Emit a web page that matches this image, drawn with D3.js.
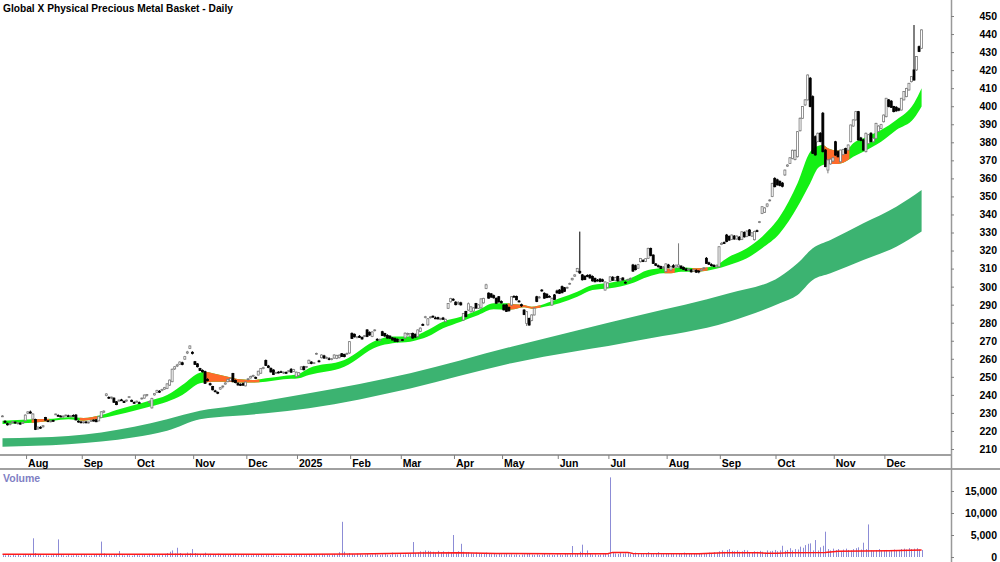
<!DOCTYPE html>
<html>
<head>
<meta charset="utf-8">
<script src="https://cdn.jsdelivr.net/npm/d3@7"></script>
<style>
body { margin: 0; background: #fff; }
svg { display: block; font-family: "Liberation Sans", Arial, sans-serif; }
</style>
</head>
<body>
<svg id="chart"></svg>
<script>
const title = "Global X Physical Precious Metal Basket - Daily";

// month ticks: label + index of first trading day of the month
const monthLabels = ["Aug", "Sep", "Oct", "Nov", "Dec", "2025", "Feb", "Mar", "Apr", "May", "Jun", "Jul", "Aug", "Sep", "Oct", "Nov", "Dec"];
const monthStarts = [10, 32, 53, 76, 97, 117, 138, 158, 179, 198, 220, 240, 263, 284, 306, 329, 349];

const priceTicks = [210, 220, 230, 240, 250, 260, 270, 280, 290, 300, 310, 320, 330, 340, 350, 360, 370, 380, 390, 400, 410, 420, 430, 440, 450];
const volumeTicks = [0, 5000, 10000, 15000];

// daily candles [open, high, low, close], 18 Jul 2024 .. 19 Dec 2025
const candles = [
[228.0,228.7,227.7,228.3],[225.4,225.9,224.5,224.8],[224.0,224.6,223.0,223.4],[223.6,224.5,223.1,224.2],[224.6,225.5,224.3,225.1],
[224.9,225.2,224.0,224.4],[224.2,224.9,223.6,224.5],[224.3,224.7,223.5,223.8],[224.1,225.0,223.9,224.8],[225.7,229.2,225.4,228.8],
[229.8,231.0,229.3,230.6],[230.5,231.3,229.6,229.9],[226.6,229.8,226.2,229.4],[226.4,226.8,220.5,220.9],[221.2,222.5,220.6,222.1],
[222.0,222.6,221.2,221.6],[222.3,223.2,221.9,222.9],[227.5,227.8,225.8,226.0],[225.6,225.9,224.9,225.2],[225.2,225.8,224.8,225.5],
[225.8,226.2,225.1,225.4],[229.0,229.6,228.8,229.4],[228.6,229.2,228.0,228.4],[228.2,228.8,227.6,228.0],[227.8,228.5,227.3,228.3],
[228.5,229.1,228.0,228.8],[228.4,229.0,227.7,228.0],[228.1,228.7,227.4,228.4],[228.6,229.2,228.0,228.3],[228.8,229.4,225.9,226.1],
[225.4,225.9,224.6,225.0],[225.0,225.5,224.2,224.6],[224.7,225.3,224.1,225.0],[225.0,225.4,224.3,224.5],[224.6,225.2,224.1,224.9],
[225.3,226.2,225.0,225.9],[226.0,226.4,225.2,225.5],[226.2,226.6,224.9,225.1],[225.6,228.2,225.3,227.9],[227.4,231.0,227.2,230.6],
[230.4,231.4,229.8,231.0],[239.6,240.9,239.2,240.5],[238.6,239.2,237.8,238.2],[238.5,239.0,237.6,238.8],[238.2,238.6,235.6,235.9],
[236.2,236.6,234.3,234.6],[236.6,237.4,236.2,237.1],[237.2,237.8,236.6,237.0],[236.4,236.9,235.5,235.8],[236.6,237.4,236.2,237.1],
[238.6,239.3,238.2,239.0],[237.0,237.4,236.0,236.3],[235.8,236.4,235.0,235.6],[236.0,236.8,235.6,236.5],[235.7,236.3,235.1,235.5],
[237.8,238.5,237.4,238.2],[238.2,240.2,237.9,239.9],[239.6,240.5,239.0,240.2],[236.0,236.8,235.4,236.3],[232.8,238.4,232.4,238.0],
[240.0,241.0,239.6,240.7],[241.4,242.8,241.0,242.5],[242.0,242.6,241.1,241.5],[242.4,243.4,242.0,243.0],[243.2,244.4,242.8,244.0],
[243.6,246.5,243.2,246.1],[245.4,248.5,245.0,248.2],[247.3,254.6,247.0,254.2],[254.4,256.0,253.8,255.6],[256.0,257.2,255.4,256.6],
[257.0,258.6,256.6,258.2],[257.8,258.4,256.4,256.8],[259.8,261.6,259.4,261.2],[263.2,264.4,262.6,263.8],[265.8,267.4,265.4,267.1],
[263.6,264.2,262.4,263.0],[258.4,258.8,256.6,256.9],[257.2,257.6,255.2,255.6],[254.6,255.0,253.2,253.5],[253.6,254.1,252.4,252.8],
[252.9,253.4,246.1,246.4],[248.6,249.2,247.5,247.9],[246.2,246.8,245.1,245.6],[244.6,245.0,242.5,242.8],[242.2,242.8,241.4,241.8],
[241.4,241.9,240.4,240.9],[243.2,244.4,242.8,244.0],[244.6,245.2,243.6,244.9],[246.0,247.0,245.6,246.6],[247.3,248.9,247.0,248.6],
[247.8,249.4,247.5,249.1],[251.8,252.2,247.0,247.3],[248.0,248.5,246.4,246.8],[246.4,247.0,245.1,245.5],[245.8,246.4,244.9,245.3],
[246.2,246.8,245.0,245.4],[245.0,247.4,244.7,247.1],[248.6,249.4,248.0,248.9],[249.4,250.6,249.0,250.2],[250.4,251.2,249.8,250.7],
[249.6,250.2,248.9,249.4],[251.0,253.4,250.8,253.1],[252.0,254.9,251.7,254.6],[254.6,255.6,254.2,255.1],[259.0,259.6,256.0,256.3],
[256.0,256.6,254.8,255.2],[254.7,255.2,252.4,252.7],[253.8,254.2,251.0,251.3],[252.2,252.8,251.6,252.4],[252.6,253.1,251.9,252.2],
[252.8,253.4,252.2,252.5],[252.2,252.9,251.6,252.6],[252.4,253.0,251.8,252.1],[253.0,253.6,252.5,253.4],[254.2,254.8,252.2,252.6],
[253.0,254.4,252.6,254.0],[250.1,252.9,249.8,252.6],[250.8,252.6,250.4,252.3],[254.2,255.8,253.8,255.5],[255.6,256.1,253.6,253.9],
[255.4,256.0,254.8,255.7],[257.5,259.5,257.1,259.2],[258.2,258.6,257.0,257.4],[257.6,258.2,257.1,257.8],[262.6,263.4,262.2,263.0],
[258.8,259.4,258.0,258.4],[260.6,262.5,260.2,262.1],[261.6,262.2,260.0,260.4],[260.4,261.2,259.8,260.8],[260.0,260.8,259.2,259.6],
[259.8,260.4,259.2,260.0],[260.4,262.5,260.0,262.1],[260.2,262.2,259.8,261.9],[260.6,262.4,260.2,262.0],[262.8,263.2,261.0,261.3],
[262.4,262.8,260.8,261.2],[262.6,263.4,262.2,263.0],[263.2,269.8,262.8,269.5],[274.1,274.6,271.0,271.3],[273.6,274.0,271.8,272.2],
[271.8,272.6,271.3,272.2],[272.5,273.1,271.6,271.9],[271.8,272.4,270.6,271.0],[272.4,273.2,272.0,272.8],[276.0,276.4,272.0,272.4],
[274.6,275.2,272.8,273.2],[272.4,275.2,272.0,274.9],[275.6,276.4,275.2,276.0],[270.8,271.4,270.0,270.4],[270.6,271.2,269.9,270.6],
[275.0,275.5,272.6,272.9],[274.0,274.4,272.2,272.6],[273.0,273.6,271.2,271.5],[272.6,273.0,271.0,271.4],[271.6,272.0,270.2,270.4],
[271.3,271.8,269.4,269.7],[270.8,271.2,269.2,269.6],[270.2,270.8,269.8,270.4],[270.6,271.0,269.8,270.3],[271.6,274.6,271.2,274.2],
[273.6,274.5,272.8,274.0],[272.4,274.3,272.0,273.9],[274.1,274.5,271.2,271.5],[273.6,274.0,271.6,272.0],[272.3,276.3,272.0,276.0],
[275.2,277.4,274.8,277.0],[279.0,279.6,278.2,278.6],[283.0,283.8,282.4,283.3],[278.8,282.6,278.4,282.2],[282.8,283.6,282.3,283.2],
[283.6,284.0,282.8,283.1],[282.6,283.4,282.0,282.4],[282.8,283.3,281.8,282.1],[282.0,282.7,281.4,282.3],[282.6,283.2,281.6,281.9],
[280.6,282.2,280.2,281.9],[288.0,290.9,287.6,290.6],[291.6,293.8,291.2,293.4],[293.0,293.6,292.0,292.5],[291.4,291.9,289.6,290.0],
[290.6,291.9,289.8,291.2],[291.0,291.6,289.5,289.9],[281.5,285.4,281.0,285.1],[286.2,286.6,283.0,283.4],[287.0,291.2,286.6,290.5],
[286.1,289.2,285.6,288.8],[286.4,288.6,286.0,288.2],[290.6,291.0,287.8,288.1],[288.0,290.2,287.6,289.9],[288.2,293.6,287.8,293.2],
[291.0,293.8,290.6,293.5],[299.0,301.6,298.6,301.0],[296.4,296.8,293.4,293.6],[296.0,296.4,293.8,294.2],[295.0,295.6,293.4,293.8],
[293.5,294.0,290.5,290.8],[294.4,294.8,291.2,291.5],[291.8,292.4,290.6,291.0],[289.8,290.2,286.8,287.1],[289.8,290.4,286.0,286.3],
[288.4,289.0,286.2,286.6],[289.8,294.8,289.4,294.4],[294.6,295.2,294.0,294.4],[294.6,295.0,292.4,292.7],[292.0,292.6,291.2,291.6],
[290.0,290.6,288.8,289.4],[287.0,287.5,284.2,284.5],[279.6,286.4,278.2,286.1],[282.4,282.8,278.4,278.7],[281.2,284.6,280.8,284.3],
[284.3,288.4,284.0,288.0],[294.4,294.9,291.4,291.7],[294.0,294.8,293.4,294.2],[298.1,298.6,297.2,297.6],[296.3,296.8,293.3,293.6],
[295.8,296.3,293.6,293.9],[294.6,295.2,294.0,294.4],[289.8,294.0,289.4,293.5],[295.4,295.9,292.6,292.9],[297.6,298.3,296.2,296.5],
[298.1,298.6,296.0,296.3],[300.0,300.6,296.3,296.6],[299.4,299.8,297.0,297.4],[299.4,300.0,298.8,299.6],[301.4,302.2,301.0,301.8],
[303.8,304.9,303.4,304.6],[305.8,306.8,305.4,306.5],[308.3,310.4,308.0,310.1],[308.5,330.5,307.0,307.6],[306.5,307.0,303.4,303.8],
[305.8,306.2,303.6,304.0],[306.2,306.8,305.2,305.6],[306.4,306.9,304.4,304.8],[305.6,306.2,302.8,303.2],[304.6,305.0,302.4,302.7],
[303.6,304.2,302.8,303.2],[304.2,304.6,302.4,302.8],[303.8,304.4,302.6,303.0],[298.1,302.9,297.8,302.6],[299.6,302.4,299.2,302.0],
[303.0,305.8,302.6,305.4],[305.2,305.8,303.2,303.5],[303.4,305.4,303.0,305.1],[305.6,306.0,302.8,303.2],[303.2,304.6,302.8,304.3],
[304.8,305.2,303.4,303.7],[302.4,302.9,301.6,302.0],[303.6,304.4,303.2,304.0],[304.4,305.0,304.0,304.6],[312.0,312.6,308.2,308.6],
[311.6,312.2,309.0,309.4],[310.2,312.6,309.8,312.2],[313.8,315.9,313.4,315.6],[314.4,315.2,313.6,314.0],[314.0,315.8,313.6,315.5],
[315.7,321.6,315.4,321.2],[321.2,321.6,316.8,317.2],[317.5,317.9,312.6,312.9],[312.6,313.0,311.4,311.8],[311.6,312.2,310.6,311.0],
[311.2,311.6,309.8,310.1],[310.6,311.4,309.8,310.8],[308.3,312.9,308.0,312.6],[312.0,312.6,310.2,310.6],[309.2,311.6,308.8,311.2],
[311.6,312.4,310.4,310.8],[310.8,312.2,310.4,311.9],[311.0,324.0,310.6,312.0],[311.4,311.8,309.8,310.2],[310.6,311.2,309.2,309.6],
[309.8,310.4,308.6,309.0],[309.4,310.2,308.8,309.7],[309.2,309.8,307.8,308.2],[308.6,309.6,308.2,309.3],[309.0,309.6,307.6,308.0],
[308.6,309.2,307.4,308.5],[309.0,310.0,308.6,309.6],[310.2,310.8,309.6,310.4],[315.7,316.4,312.6,312.9],[313.2,313.8,312.0,312.4],
[312.2,312.9,311.2,311.6],[311.8,312.4,310.8,311.2],[311.0,312.2,310.6,311.8],[311.0,322.4,310.6,322.1],[323.4,324.6,323.0,324.0],
[324.4,325.0,323.6,324.2],[328.6,329.2,324.6,325.0],[327.8,328.4,325.4,325.8],[326.2,328.9,325.8,328.6],[328.0,328.6,326.0,326.4],
[326.4,328.4,326.0,328.0],[327.4,328.0,325.6,326.0],[326.2,330.7,325.8,330.4],[330.0,330.6,327.2,327.6],[327.8,331.2,327.4,330.8],
[331.4,331.9,328.0,328.4],[328.0,330.2,327.6,329.8],[326.0,331.0,325.6,330.6],[331.0,331.6,330.2,330.6],[335.6,336.4,335.2,336.0],
[340.6,344.6,340.2,344.3],[341.2,344.0,340.8,343.6],[344.6,346.2,344.0,345.8],[347.6,348.4,347.2,348.0],[349.9,357.6,349.6,357.2],
[360.0,360.6,355.0,355.4],[359.2,359.8,356.0,356.4],[358.4,358.8,355.6,356.0],[357.4,358.0,355.0,355.6],[361.9,364.9,361.4,364.6],
[366.8,367.8,366.4,367.4],[368.3,371.8,368.0,371.4],[371.0,375.9,370.6,375.6],[370.4,376.0,370.0,375.4],[372.0,386.2,371.6,385.9],
[386.4,393.8,386.0,393.3],[393.3,400.1,393.0,399.8],[400.7,404.0,400.2,403.5],[403.5,417.6,403.2,417.3],[415.5,416.2,399.4,399.8],
[405.3,406.0,373.6,373.9],[383.1,383.8,372.6,373.0],[380.4,385.4,380.0,385.0],[385.0,385.6,380.0,380.4],[396.1,396.8,374.4,374.8],
[375.7,376.2,366.2,366.5],[364.6,370.6,362.8,370.2],[368.0,371.0,367.6,370.6],[369.6,371.8,369.2,371.4],[380.3,380.8,372.6,372.9],
[374.8,375.4,371.6,372.0],[369.2,375.9,368.8,375.7],[373.2,376.4,372.8,376.0],[376.6,377.0,373.6,373.9],[375.7,378.8,375.4,378.5],
[380.3,389.8,380.0,389.6],[389.0,392.8,388.6,392.4],[392.4,397.4,392.0,397.0],[397.0,397.4,381.0,381.3],[382.4,383.0,380.6,381.0],
[381.3,381.8,375.4,375.7],[374.8,385.4,374.4,385.0],[379.4,384.6,379.0,384.2],[385.0,385.6,380.0,380.4],[380.3,382.6,379.8,382.2],
[382.2,390.8,381.8,390.5],[386.0,389.4,385.6,389.0],[387.6,390.2,387.2,389.8],[391.4,395.4,391.0,395.1],[394.2,404.6,393.8,404.4],
[403.5,404.0,399.4,399.8],[402.8,403.4,399.0,399.4],[399.8,400.2,396.6,397.0],[399.4,400.0,397.0,397.4],[398.6,399.2,397.2,397.8],
[397.9,404.6,397.6,404.4],[403.5,408.3,403.2,408.1],[405.3,410.2,405.0,409.8],[409.0,412.9,408.6,412.7],[413.6,416.6,413.2,416.4],
[420.1,445.0,414.2,414.5],[420.1,427.8,419.6,427.5],[433.0,433.6,430.0,430.3],[432.1,442.6,431.8,442.3]
];

const volume = [
420,380,520,300,460,350,610,280,390,700,520,640,4250,900,560,480,350,420,300,380,
450,520,4000,610,380,290,470,350,400,560,330,480,620,410,300,360,450,700,520,3500,
820,560,430,380,500,610,1350,420,350,480,390,300,450,520,380,410,600,350,720,480,
520,430,610,480,700,900,1200,1500,800,2100,900,650,720,1000,850,1800,900,760,620,700,
980,650,720,580,540,760,620,480,700,560,450,620,780,560,430,500,660,420,380,520,
450,600,480,380,520,420,350,480,300,260,380,420,300,350,460,380,520,600,440,380,
500,560,420,640,520,480,700,560,600,450,520,700,580,1100,8000,1200,620,880,700,560,
800,620,480,560,700,520,600,900,560,480,620,700,540,480,1000,620,580,700,540,620,
700,800,3400,900,1000,1300,1200,1500,1400,1300,1200,1000,1400,1100,1300,900,1200,1000,5000,1100,
1300,3000,1200,1000,1100,900,800,1000,900,700,800,1000,760,640,700,560,900,620,600,700,
560,640,520,600,480,560,620,700,900,560,500,620,480,560,880,520,600,500,460,620,
560,480,700,620,560,2500,600,900,1200,2800,900,1500,800,560,620,480,560,620,700,640,
18100,900,800,700,1000,760,840,900,700,800,1000,700,900,760,800,1100,700,900,800,1100,
640,700,900,760,700,800,640,900,700,1000,800,760,860,700,640,760,900,700,800,1000,
900,1100,1000,1300,1500,1200,1600,1800,1400,1300,1500,1200,1300,1600,1500,1000,1100,1300,1200,1400,
1200,1000,1500,1300,1400,1600,1300,1500,2550,1400,1600,2000,1500,1800,1700,2350,2100,2700,3000,3100,
1500,3850,1500,2200,2550,5750,1800,1500,1900,1600,1800,1400,1700,1900,1600,1500,1800,2000,2200,1700,
3250,1800,7400,1500,1400,1600,1800,1400,1500,1600,1300,1500,1700,1400,1600,1800,1900,1700,2000,1800,
1900,2000,1700,1600
];

// volume average line, read at a few days
const volAvgIdx = [0, 60, 120, 140, 165, 180, 195, 220, 239, 241, 247, 249, 275, 285, 298, 302, 306, 310, 325, 330, 350, 363];
const volAvgVal = [600, 620, 650, 700, 900, 950, 800, 740, 760, 1050, 1050, 820, 760, 980, 980, 850, 850, 980, 1000, 1300, 1400, 1600];

// short-term ribbon (upper / lower edge)
const shortIdx = [0,12,20,26,32,39,45,52,58,65,71,78,80,83,89,94,99,104,111,117,121,135,148,154,161,168,174,181,188,194,199,202,206,209,214,220,227,233,240,248,255,261,264,268,274,281,287,294,300,307,314,319,322,324,326,330,334,336,340,347,353,360,363];
const shortHi = [225.7,226.5,226.8,227.6,227.2,228.8,231.6,234.4,236.8,239.9,245.5,252.3,252.8,252.0,250.1,248.6,248.2,249.2,250.5,251.6,254.7,259.3,270.4,272.3,272.3,276.0,280.6,283.3,287.1,290.8,290.8,290.2,289.8,288.9,290.4,293.5,297.2,300.9,302.2,304.6,309.2,310.2,309.8,310.7,310.2,311.4,316.6,321.3,327.7,338.8,357.3,374.8,378.0,378.5,376.7,375.4,376.7,379.5,382.2,386.8,392.4,401.6,409.9];
const shortLo = [223.9,224.6,225.7,226.5,225.7,227.0,228.8,231.2,233.4,236.2,239.9,246.4,246.8,247.3,247.3,246.8,246.8,247.3,248.6,249.2,251.0,255.6,266.7,268.6,269.5,272.3,276.9,280.6,284.3,287.4,287.1,287.4,288.5,287.8,288.9,290.8,294.4,298.1,299.1,301.6,305.5,307.4,307.4,308.3,308.3,309.6,312.0,315.7,321.3,329.6,344.3,357.3,365.6,367.4,368.0,368.0,370.2,372.0,374.8,380.3,386.8,393.3,399.8];
// stretches where the short ribbon turns bearish (orange)
const bearishRanges = [[12, 18], [31, 37], [80, 101], [200, 212], [262, 265], [273, 278], [325, 334]];

// long-term ribbon
const longIdx = [0,26,52,65,78,91,104,121,161,201,252,287,307,314,320,327,340,353,363];
const longHi = [215.9,217.2,222.4,226.5,231.2,233.8,236.8,240.9,252.0,266.7,284.3,296.3,305.5,312.9,321.3,325.9,335.1,344.3,353.6];
const longLo = [211.3,212.6,216.5,220.1,226.5,228.3,229.8,232.6,243.6,257.5,270.4,280.6,290.8,295.4,303.7,307.4,314.8,322.1,330.5];

const width = 1000,
    height = 562;
const axisX = 951;
const priceBox = { top: 0, bottom: 455 };
const dateStrip = { top: 455, bottom: 469 };

const svg = d3.select("#chart")
    .attr("width", width)
    .attr("height", height);

const x = d3.scaleLinear().domain([0, candles.length - 1]).range([2.5, 921.6]);
const y = d3.scaleLinear().domain([210, 450]).range([449, 16]);
const yVol = d3.scaleLinear().domain([0, 15000]).range([557, 491]);

svg.append("defs").append("clipPath").attr("id", "priceClip")
    .append("rect").attr("x", 0).attr("y", 0).attr("width", axisX).attr("height", priceBox.bottom);

const bearClip = svg.select("defs").append("clipPath").attr("id", "bearClip");
bearClip.selectAll("rect").data(bearishRanges).join("rect")
    .attr("x", d => x(d[0] - 0.5))
    .attr("width", d => x(d[1] + 0.5) - x(d[0] - 0.5))
    .attr("y", 0)
    .attr("height", priceBox.bottom);

const plot = svg.append("g").attr("clip-path", "url(#priceClip)");

// ribbons
const bandArea = d3.area()
    .x(d => x(d.i))
    .y0(d => y(d.lo))
    .y1(d => y(d.hi))
    .curve(d3.curveMonotoneX);

const longData = longIdx.map((i, k) => ({ i, hi: longHi[k], lo: longLo[k] }));
const shortData = shortIdx.map((i, k) => ({ i, hi: shortHi[k], lo: shortLo[k] }));

plot.append("path").attr("fill", "#3cb371").attr("d", bandArea(longData));
plot.append("path").attr("fill", "#14f014").attr("d", bandArea(shortData));
plot.append("path").attr("fill", "#ff6a2a").attr("clip-path", "url(#bearClip)").attr("d", bandArea(shortData));

// candles
const up = d => d[3] >= d[0];
const candleG = plot.append("g");
candleG.selectAll("line").data(candles).join("line")
    .attr("x1", (d, i) => x(i)).attr("x2", (d, i) => x(i))
    .attr("y1", d => y(d[1])).attr("y2", d => y(d[2]))
    .attr("stroke", d => up(d) ? "#7a7a7a" : "#000")
    .attr("stroke-width", 1);
candleG.selectAll("rect").data(candles).join("rect")
    .attr("x", (d, i) => x(i) - 1)
    .attr("y", d => y(Math.max(d[0], d[3])))
    .attr("width", 2)
    .attr("height", d => Math.max(0.8, Math.abs(y(d[0]) - y(d[3]))))
    .attr("fill", d => up(d) ? "#fff" : "#000")
    .attr("stroke", d => up(d) ? "#7a7a7a" : "#000")
    .attr("stroke-width", 0.8);

// title
svg.append("text")
    .attr("x", 3).attr("y", 12)
    .attr("font-size", 10.2).attr("font-weight", "bold")
    .text(title);

// date strip
svg.append("line").attr("x1", 0).attr("x2", axisX).attr("y1", dateStrip.top).attr("y2", dateStrip.top)
    .attr("stroke", "#a0a0a0").attr("stroke-width", 2);
svg.append("line").attr("x1", 0).attr("x2", width).attr("y1", dateStrip.bottom).attr("y2", dateStrip.bottom)
    .attr("stroke", "#808080").attr("stroke-width", 1.5);
const months = svg.append("g").selectAll("g").data(monthStarts).join("g")
    .attr("transform", d => `translate(${x(d - 0.5)},${dateStrip.top})`);
months.append("line").attr("y1", 0).attr("y2", 4).attr("stroke", "#808080");
months.append("text")
    .attr("x", 1.5).attr("y", 11.5)
    .attr("font-size", 10.5).attr("font-weight", "bold")
    .text((d, k) => monthLabels[k]);

// right axis
svg.append("line").attr("x1", axisX + 0.5).attr("x2", axisX + 0.5).attr("y1", 0).attr("y2", height)
    .attr("stroke", "#999").attr("stroke-width", 1.5);

const priceAxis = svg.append("g").attr("transform", `translate(${axisX},0)`)
    .call(d3.axisRight(y).tickValues(priceTicks).tickSize(3).tickFormat(d3.format("d")));
const volAxis = svg.append("g").attr("transform", `translate(${axisX},0)`)
    .call(d3.axisRight(yVol).tickValues(volumeTicks).tickSize(3).tickFormat(d3.format(",")));
[priceAxis, volAxis].forEach(a => {
    a.select(".domain").remove();
    a.selectAll(".tick line").attr("stroke", "#808080");
    a.selectAll(".tick text")
        .attr("x", 46).attr("text-anchor", "end")
        .attr("font-size", 10.5).attr("font-weight", "bold")
        .attr("font-family", "Liberation Sans, Arial, sans-serif")
        .attr("fill", "#000");
});

// volume panel
svg.append("text")
    .attr("x", 3).attr("y", 482)
    .attr("font-size", 10.5).attr("font-weight", "bold")
    .attr("fill", "#7f7fc4")
    .text("Volume");

svg.append("g").selectAll("line").data(volume).join("line")
    .attr("x1", (d, i) => Math.round(x(i)) + 0.5).attr("x2", (d, i) => Math.round(x(i)) + 0.5)
    .attr("y1", yVol(0)).attr("y2", d => yVol(d))
    .attr("stroke", "#8c8cd6").attr("stroke-width", 1);

const volAvgLine = d3.line().x(d => x(d[0])).y(d => yVol(d[1]));
svg.append("path")
    .attr("fill", "none").attr("stroke", "#ff1a1a").attr("stroke-width", 1.5)
    .attr("d", volAvgLine(volAvgIdx.map((i, k) => [i, volAvgVal[k]])));
</script>
</body>
</html>
